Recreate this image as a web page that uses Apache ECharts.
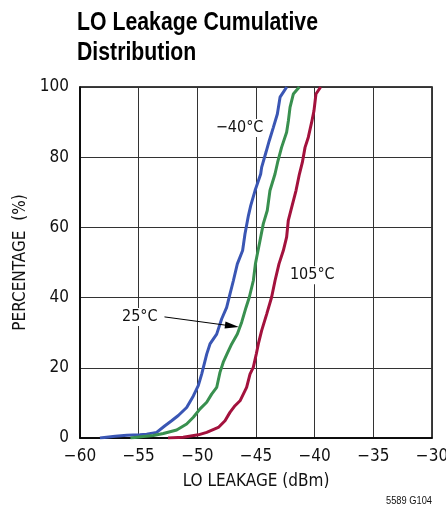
<!DOCTYPE html>
<html>
<head>
<meta charset="utf-8">
<script src="https://cdn.jsdelivr.net/npm/echarts@6/dist/echarts.min.js"></script>
<style>
html,body{margin:0;padding:0;background:#fff;}
#chart{width:446px;height:508px;}
</style>
</head>
<body>
<div id="chart"></div>
<script>
// ---- data ----
const xTicks = [-60, -55, -50, -45, -40, -35, -30];
const yTicks = [0, 20, 40, 60, 80, 100];

const blueLeak = [-58.3, -57.0, -56.0, -54.89, -54.32, -53.47, -52.76, -52.19, -51.62, -50.91, -50.34, -49.92, -49.63, -49.2, -48.92, -48.35, -47.93, -47.5, -47.22, -46.93, -46.59, -46.14, -45.94, -45.65, -45.45, -45.08, -44.6, -44.52, -44.15, -43.87, -43.52, -43.18, -42.95, -42.38];
const bluePct  = [0, 0.5, 0.8, 0.9, 1.1, 1.6, 3.5, 4.9, 6.4, 8.7, 12.0, 14.9, 18.2, 23.9, 26.8, 29.6, 33.9, 37.2, 41.0, 44.8, 49.6, 53.4, 58.1, 63.3, 66.2, 70.5, 75.2, 77.1, 81.4, 84.7, 88.5, 92.3, 97.1, 100];

const greenLeak = [-55.7, -54.6, -53.75, -52.9, -51.76, -50.91, -50.34, -49.77, -49.2, -48.78, -48.35, -48.07, -47.79, -47.45, -47.07, -46.59, -46.22, -45.85, -45.57, -45.23, -45.05, -44.94, -44.66, -44.38, -44.04, -43.81, -43.38, -43.16, -42.82, -42.39, -42.24, -42.1, -41.82, -41.31];
const greenPct  = [0, 0.4, 0.7, 1.3, 2.3, 4.0, 5.9, 8.3, 10.2, 12.5, 14.4, 18.7, 21.6, 24.1, 26.8, 29.6, 33.0, 37.2, 40.1, 44.8, 49.6, 51.5, 56.2, 61.0, 64.8, 70.5, 75.2, 78.5, 82.8, 87.1, 90.4, 94.2, 98.0, 100];

const redLeak = [-52.5, -51.2, -49.92, -49.2, -48.21, -47.64, -47.22, -46.79, -46.36, -45.8, -45.51, -45.23, -44.97, -44.8, -44.52, -44.09, -43.67, -43.38, -43.04, -42.67, -42.39, -42.25, -41.96, -41.59, -41.3, -41.05, -40.82, -40.54, -40.26, -40.06, -39.89, -39.49];
const redPct  = [0, 0.2, 0.9, 1.6, 3.0, 4.9, 7.3, 9.2, 10.6, 14.4, 18.2, 20.1, 24.0, 26.8, 30.6, 35.3, 40.1, 44.8, 49.6, 53.4, 57.2, 61.9, 65.7, 70.5, 75.2, 78.5, 82.8, 85.7, 89.9, 93.2, 98.0, 100];

const seriesNames = ['\u221240\u00B0C', '25\u00B0C', '105\u00B0C'];
const seriesColors = ['#3a56b4', '#39904f', '#a3123d'];

const labelBlue = [-46.4, 88.3];
const labelRed = [-40.2, 46.4];
const labelGreen = [-54.9, 34.5];
const arrowFrom = [-52.8, 34.5];
const arrowTo = [-47.05, 31.9];

const titleLines = ['LO Leakage Cumulative', 'Distribution'];
const footnote = '5589 G104';

// ---- chart ----
const FONT = '"DejaVu Sans Condensed", "Liberation Sans", sans-serif';
const HFONT = '"Liberation Sans", Arial, sans-serif';
const zip = (a, b) => a.map((v, i) => [v, b[i]]);
const minus = v => String(v).replace('-', '\u2212');

function measure(text, font) {
  const c = document.createElement('canvas').getContext('2d');
  c.font = font;
  return c.measureText(text).width;
}
const titleScale = 241 / measure(titleLines[0], 'bold 26px ' + HFONT);
const footScale = 46 / measure(footnote, '11px ' + HFONT);

const chart = echarts.init(document.getElementById('chart'), null, {renderer: 'canvas'});

function textPoint(coord, text) {
  return {
    coord: coord,
    symbol: 'circle',
    symbolSize: 1,
    itemStyle: {color: 'rgba(0,0,0,0)'},
    label: {
      show: true, position: 'inside', formatter: text,
      fontFamily: FONT, fontSize: 16, color: '#111',
      backgroundColor: '#fff', padding: [1, 2]
    }
  };
}

const data = [zip(blueLeak, bluePct), zip(greenLeak, greenPct), zip(redLeak, redPct)];

const series = data.map((d, i) => ({
  name: seriesNames[i],
  type: 'line',
  data: d,
  showSymbol: false,
  symbol: 'none',
  lineStyle: {color: seriesColors[i], width: 3},
  z: 3,
  animation: false
}));

series[0].markPoint = {silent: true, animation: false, data: [textPoint(labelBlue, seriesNames[0])]};
series[2].markPoint = {silent: true, animation: false, data: [textPoint(labelRed, seriesNames[2])]};
series[1].markPoint = {silent: true, animation: false, data: [textPoint(labelGreen, seriesNames[1])]};
series[1].markLine = {
  silent: true, animation: false,
  symbol: ['none', 'triangle'], symbolSize: [7, 14],
  lineStyle: {color: '#000', width: 1, type: 'solid'},
  label: {show: false},
  data: [[{coord: arrowFrom}, {coord: arrowTo}]]
};

chart.setOption({
  animation: false,
  backgroundColor: '#fff',
  grid: {left: 80, right: 14, top: 87, bottom: 70, show: true, borderColor: '#000', borderWidth: 1.5, outerBoundsMode: 'none', containLabel: false},
  xAxis: {
    type: 'value', min: -60, max: -30, interval: 5,
    name: 'LO LEAKAGE (dBm)', nameLocation: 'middle', nameGap: 35,
    nameTextStyle: {fontFamily: FONT, fontSize: 17, color: '#111'},
    axisLine: {show: true, lineStyle: {color: '#000', width: 1.5}},
    axisTick: {show: false},
    axisLabel: {fontFamily: FONT, fontSize: 17, color: '#111', margin: 10, formatter: v => minus(v)},
    splitLine: {show: true, lineStyle: {color: '#333', width: 1}}
  },
  yAxis: {
    type: 'value', min: 0, max: 100, interval: 20,
    name: 'PERCENTAGE  (%)', nameLocation: 'middle', nameGap: 46,
    nameTextStyle: {fontFamily: FONT, fontSize: 17, color: '#111'},
    axisLine: {show: true, lineStyle: {color: '#000', width: 1.5}},
    axisTick: {show: false},
    axisLabel: {fontFamily: FONT, fontSize: 17, color: '#111', margin: 11},
    splitLine: {show: true, lineStyle: {color: '#333', width: 1}}
  },
  graphic: [
    {
      type: 'text', x: 77, y: 8, scaleX: titleScale,
      style: {text: titleLines.join('\n'), font: 'bold 26px ' + HFONT, lineHeight: 30, fill: '#000', textVerticalAlign: 'top'}
    },
    {
      type: 'text', x: 432 - 46, y: 495, scaleX: footScale,
      style: {text: footnote, font: '11px ' + HFONT, fill: '#111', textVerticalAlign: 'top'}
    }
  ],
  series: series
});
</script>
</body>
</html>
